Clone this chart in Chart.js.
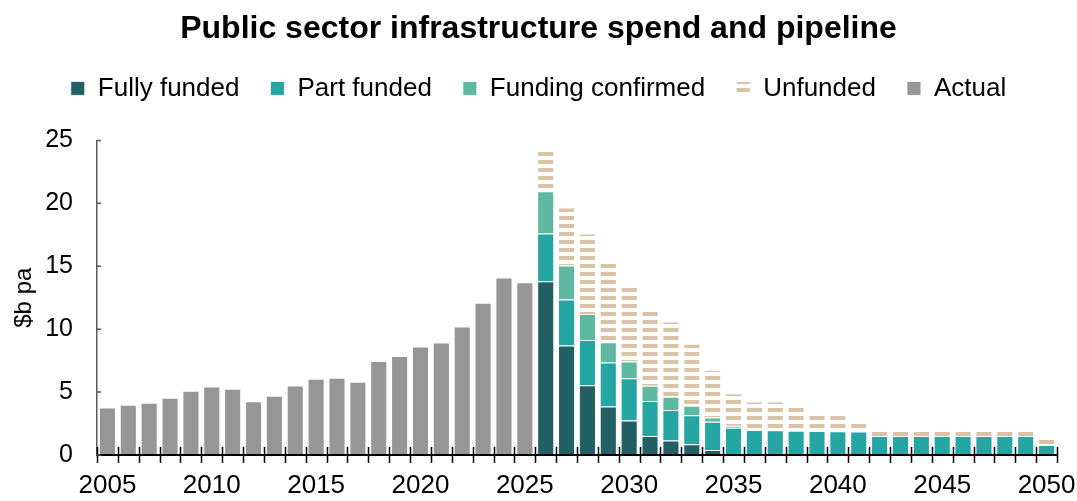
<!DOCTYPE html>
<html>
<head>
<meta charset="utf-8">
<script src="https://cdn.jsdelivr.net/npm/chart.js@4"></script>
<style>
  html, body { margin: 0; padding: 0; background: #fff; }
  #wrap { width: 1077px; height: 501px; }
</style>
</head>
<body>
<div id="wrap"><canvas id="pipelineChart" width="1077" height="501"></canvas></div>
<script>
// ---------------------------------------------------------------------------
// Data ($b per annum)
// ---------------------------------------------------------------------------
const years = [
  2005, 2006, 2007, 2008, 2009, 2010, 2011, 2012, 2013, 2014,
  2015, 2016, 2017, 2018, 2019, 2020, 2021, 2022, 2023, 2024,
  2025, 2026, 2027, 2028, 2029, 2030, 2031, 2032, 2033, 2034,
  2035, 2036, 2037, 2038, 2039, 2040, 2041, 2042, 2043, 2044,
  2045, 2046, 2047, 2048, 2049, 2050
];
const xTickYears = [2005, 2010, 2015, 2020, 2025, 2030, 2035, 2040, 2045, 2050];

// 2005-2025 outturn
const actual = [
  3.78, 3.99, 4.15, 4.55, 5.1, 5.45, 5.27, 4.28, 4.71, 5.53,
  6.06, 6.14, 5.82, 7.47, 7.87, 8.62, 8.94, 10.21, 12.1, 14.1, 13.72
];

// 2026-2050 pipeline, by funding status (stack segments)
const fullyFunded = [
  13.8, 8.7, 5.55, 3.85, 2.75, 1.5, 1.15, 0.85, 0.4, null,
  null, null, null, null, null, null, null, null, null, null,
  null, null, null, null, null
];
const partFunded = [
  3.8, 3.65, 3.58, 3.5, 3.35, 2.8, 2.42, 2.3, 2.25, 2.17,
  1.98, 1.96, 1.92, 1.9, 1.88, 1.86, 1.5, 1.5, 1.5, 1.5,
  1.5, 1.5, 1.5, 1.5, 0.8
];
const fundingConfirmed = [
  3.35, 2.7, 2.07, 1.6, 1.33, 1.2, 1.06, 0.76, 0.33, 0.16,
  null, null, null, null, null, null, null, null, null, null,
  null, null, null, null, null
];
const unfunded = [
  3.45, 4.62, 6.4, 6.43, 6.12, 6.1, 5.97, 4.94, 3.8, 2.57,
  2.27, 2.29, 1.93, 1.6, 1.62, 0.99, 0.6, 0.6, 0.6, 0.6,
  0.6, 0.6, 0.6, 0.6, 0.6
];

// ---------------------------------------------------------------------------
// Helpers
// ---------------------------------------------------------------------------
const before = Array(actual.length).fill(null);
const after = Array(fullyFunded.length).fill(null);

// horizontal tan stripes for the unfunded segments
function stripePattern() {
  const c = document.createElement('canvas');
  c.width = 8;
  c.height = 8;
  const g = c.getContext('2d');
  g.fillStyle = '#d8c3a5';
  g.fillRect(0, 0, 8, 4);
  return g.createPattern(c, 'repeat');
}

// extra gap between the legend row and the plot
const legendGap = {
  id: 'legendGap',
  beforeInit(chart) {
    const fit = chart.legend.fit;
    chart.legend.fit = function () {
      fit.call(this);
      this.height += 29;
    };
  }
};

// tick marks that cross the x axis at each year boundary, plus short inward y ticks
const axisTicks = {
  id: 'axisTicks',
  afterDatasetsDraw(chart) {
    const { ctx, scales: { x, y } } = chart;
    const step = x.getPixelForValue(1) - x.getPixelForValue(0);
    ctx.save();
    ctx.strokeStyle = '#000';
    ctx.lineWidth = 2;
    ctx.beginPath();
    ctx.moveTo(x.left, y.bottom);
    ctx.lineTo(x.right, y.bottom);
    ctx.stroke();
    ctx.lineWidth = 1.5;
    ctx.beginPath();
    for (let i = 0; i <= years.length; i++) {
      const px = Math.round(x.getPixelForValue(i) - step / 2) + 0.5;
      ctx.moveTo(px, y.bottom - 8);
      ctx.lineTo(px, y.bottom + 8);
    }
    ctx.stroke();
    ctx.strokeStyle = '#595959';
    ctx.lineWidth = 1.5;
    ctx.beginPath();
    y.ticks.forEach(t => {
      const py = y.getPixelForValue(t.value);
      ctx.moveTo(y.right, py);
      ctx.lineTo(y.right + 4, py);
    });
    ctx.stroke();
    ctx.restore();
  }
};

// ---------------------------------------------------------------------------
// Chart
// ---------------------------------------------------------------------------
Chart.defaults.font.family = "'Liberation Sans', Arial, sans-serif";
Chart.defaults.color = '#000';

const barStyle = {
  borderColor: 'rgba(255,255,255,0.85)',
  borderWidth: 1,
  barPercentage: 0.82,
  categoryPercentage: 1.0,
  stack: 'total'
};

new Chart(document.getElementById('pipelineChart'), {
  type: 'bar',
  data: {
    labels: years,
    datasets: [
      { label: 'Fully funded', data: before.concat(fullyFunded), backgroundColor: '#226063', ...barStyle },
      { label: 'Part funded', data: before.concat(partFunded), backgroundColor: '#26a6a3', ...barStyle },
      { label: 'Funding confirmed', data: before.concat(fundingConfirmed), backgroundColor: '#5fb9a0', ...barStyle },
      { label: 'Unfunded', data: before.concat(unfunded), backgroundColor: stripePattern(), ...barStyle },
      { label: 'Actual', data: actual.concat(after), backgroundColor: '#969696', ...barStyle }
    ]
  },
  options: {
    responsive: false,
    animation: false,
    layout: { padding: { top: 0, right: 10, bottom: 0, left: 10 } },
    plugins: {
      title: {
        display: true,
        text: 'Public sector infrastructure spend and pipeline',
        font: { size: 32, weight: 'bold' },
        color: '#000',
        padding: { top: 10, bottom: -4 }
      },
      legend: {
        position: 'top',
        labels: {
          boxWidth: 14,
          boxHeight: 14,
          padding: 31,
          font: { size: 26 },
          color: '#000'
        }
      },
      tooltip: { enabled: false }
    },
    scales: {
      x: {
        stacked: true,
        grid: { display: false, drawTicks: false },
        border: { display: false },
        ticks: {
          autoSkip: false,
          maxRotation: 0,
          padding: 15,
          font: { size: 26 },
          callback: function (value) {
            const yr = this.getLabelForValue(value);
            return xTickYears.includes(Number(yr)) ? yr : '';
          }
        },
        afterFit(scale) {
          scale.height = 46;
          scale.paddingLeft = 0;
          scale.paddingRight = 20;
        }
      },
      y: {
        stacked: true,
        min: 0,
        max: 25,
        grid: { display: false, drawTicks: false },
        border: { display: true, color: '#595959', width: 1.5 },
        ticks: { stepSize: 5, padding: 24, font: { size: 25 } },
        title: {
          display: true,
          text: '$b pa',
          font: { size: 24 },
          padding: { top: 0, bottom: 0 }
        },
        afterFit(scale) {
          scale.width = 87;
        }
      }
    }
  },
  plugins: [legendGap, axisTicks]
});
</script>
</body>
</html>
